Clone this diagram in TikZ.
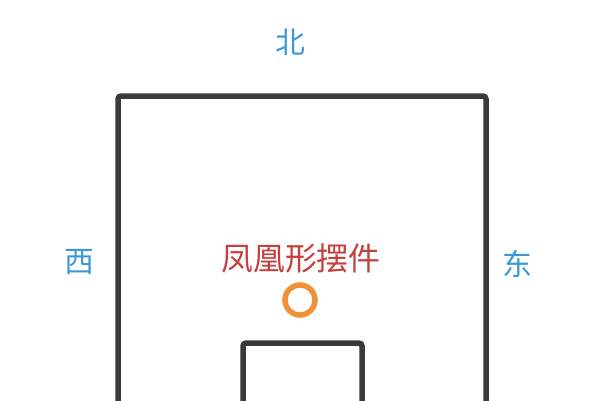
\documentclass[tikz,border=0pt]{standalone}
\usepackage{fontspec}
\newfontfamily\cjk{Noto Sans CJK SC}
\definecolor{wallgray}{HTML}{3A3A3A}
\definecolor{dirblue}{HTML}{3B9AD6}
\definecolor{labelred}{HTML}{C4403F}
\definecolor{ringorange}{HTML}{F0913A}
\tikzset{
  wall/.style={draw=wallgray, line width=5.5bp, rounded corners=3bp, line cap=round},
  direction/.style={text=dirblue, font=\cjk\fontsize{30}{30}\selectfont, inner sep=0pt},
  ornament/.style={text=labelred, font=\cjk\fontsize{32}{32}\selectfont, inner sep=0pt},
}
\begin{document}
\begin{tikzpicture}[x=1bp, y=-1bp]

  \useasboundingbox (0,0) rectangle (600,400);
  \clip (0,0) rectangle (600,400);

  \draw[wall] (118,430) -- (118,96) -- (486,96) -- (486,430);
  \draw[wall] (243,430) -- (243,343) -- (362,343) -- (362,430);

  \node[direction] (north) at (290,42) {北};
  \node[direction] (west) at (79,262) {西};
  \node[direction] (east) at (517,264) {东};

  \node[ornament] (phoenix) at (301,258) {凤凰形摆件};
  \draw[ringorange, line width=5.5bp] (300,300) circle (15);

\end{tikzpicture}
\end{document}
